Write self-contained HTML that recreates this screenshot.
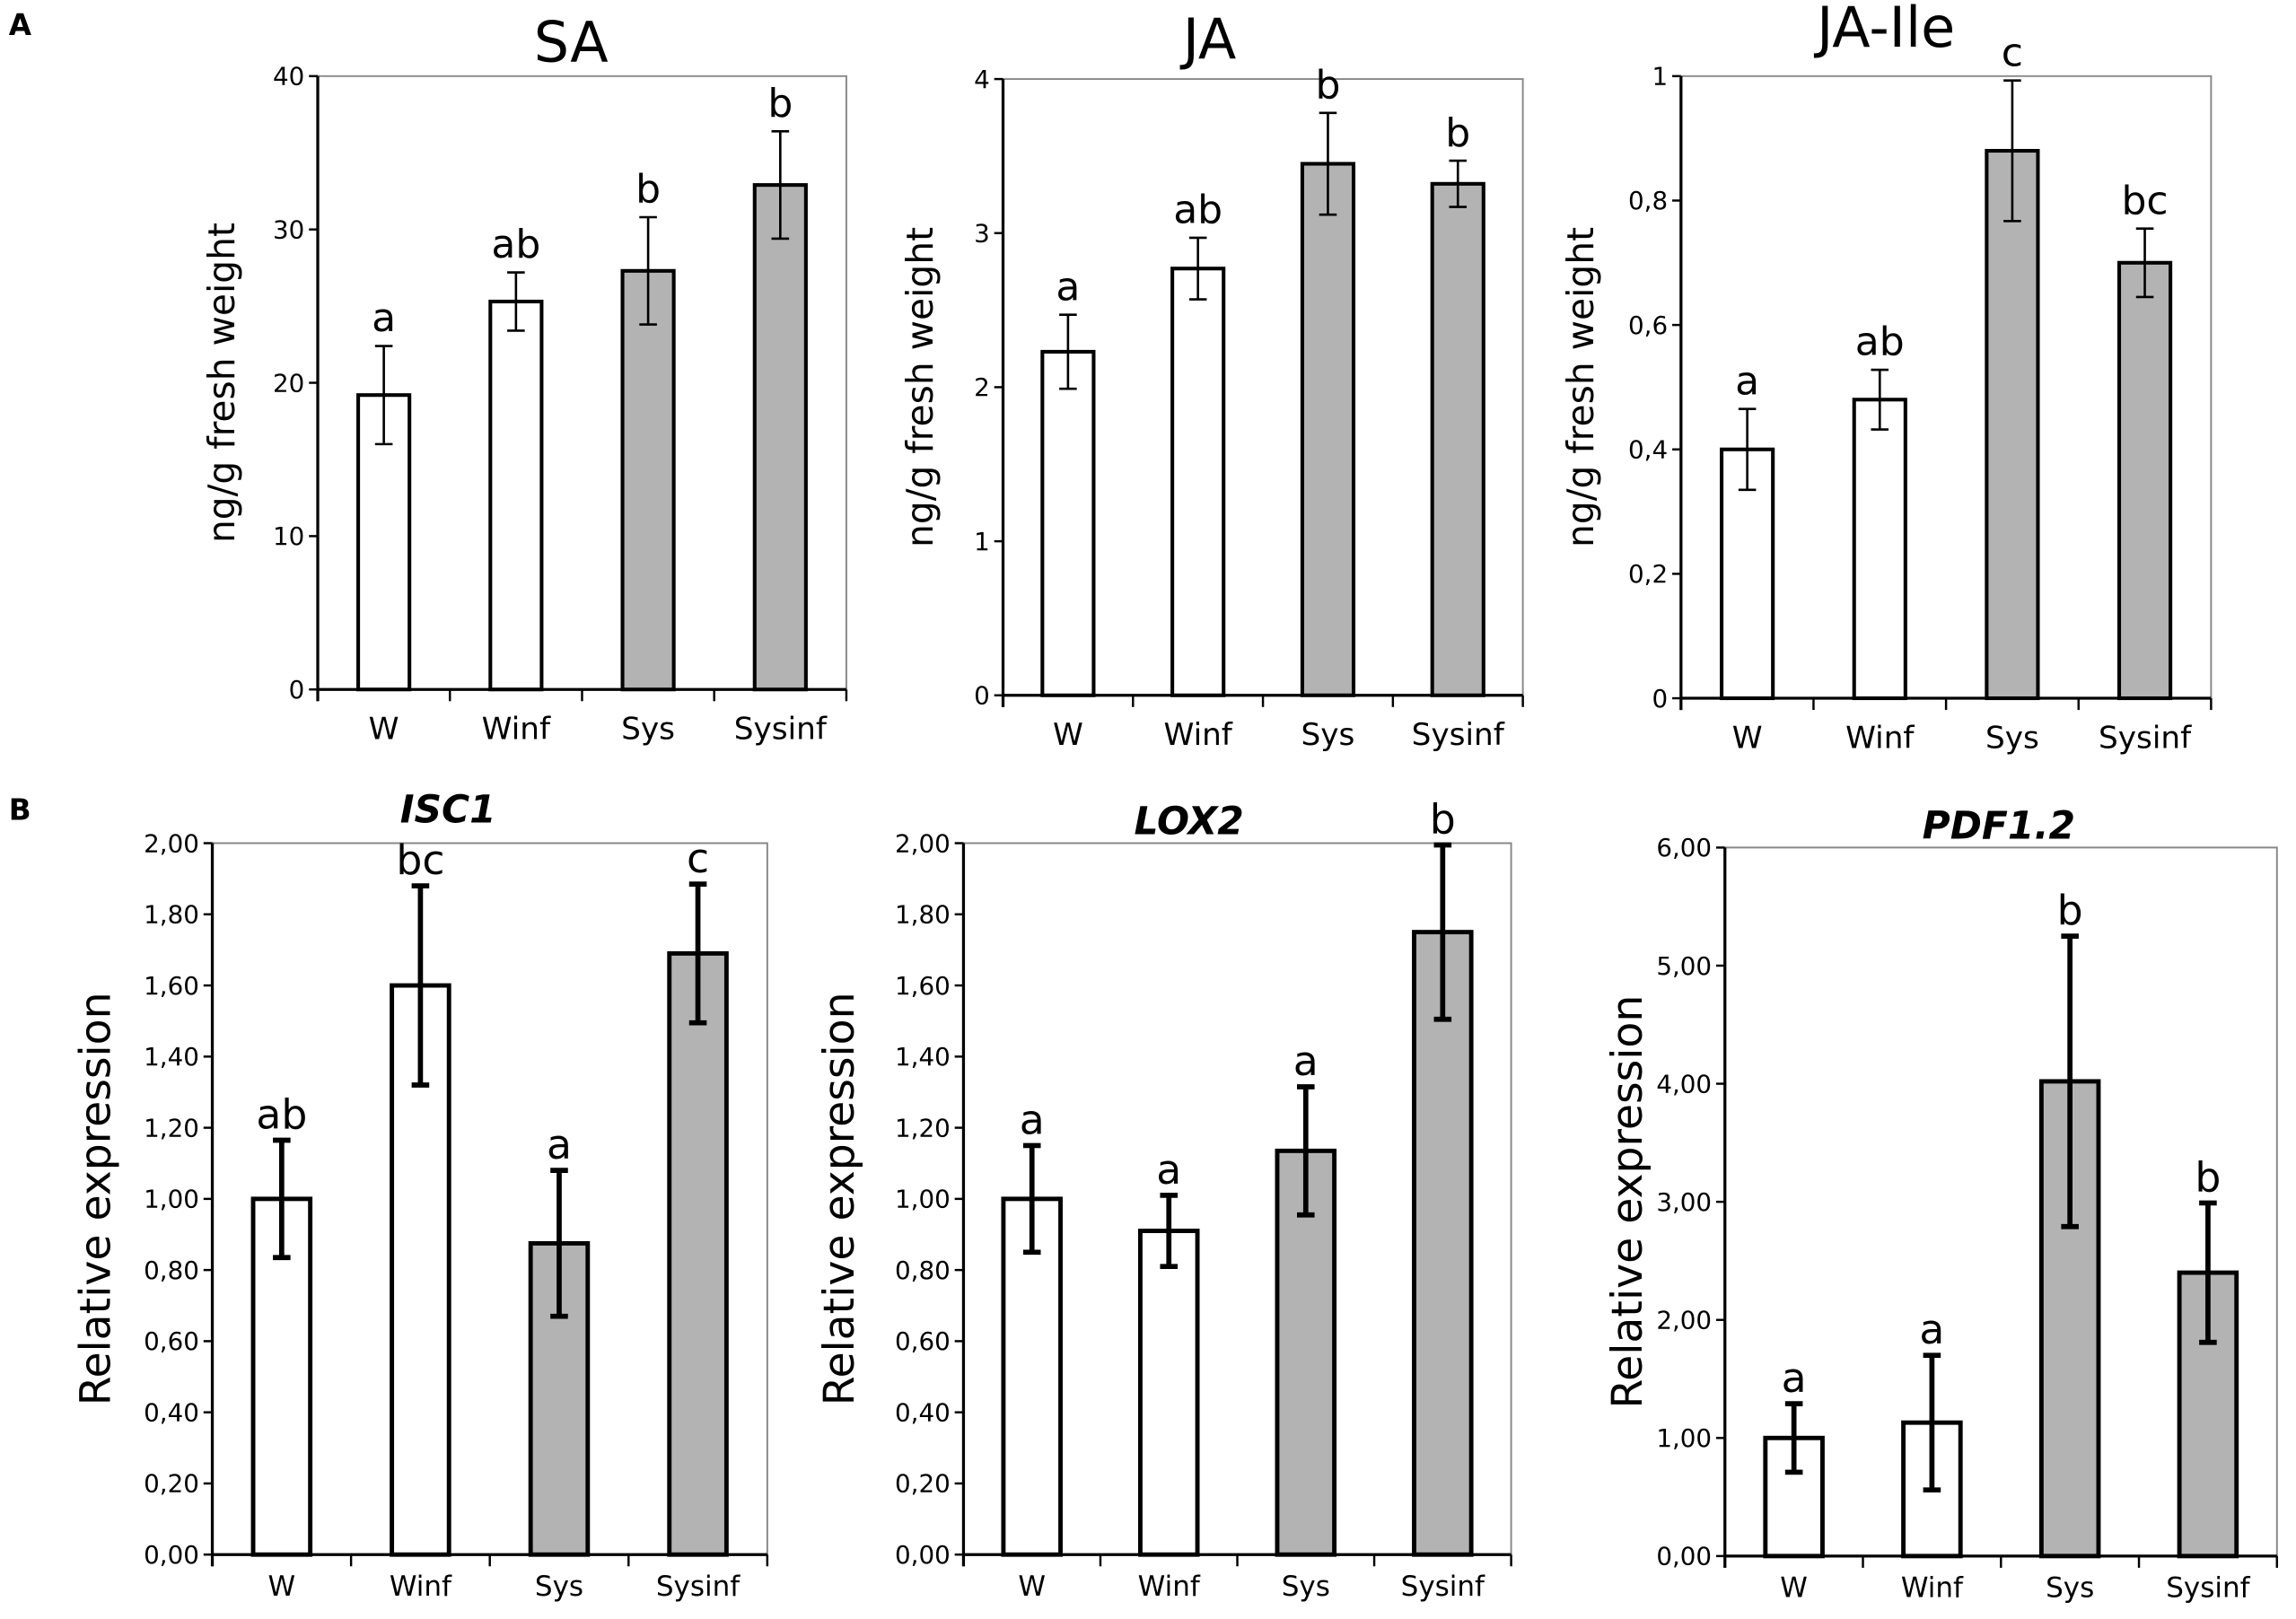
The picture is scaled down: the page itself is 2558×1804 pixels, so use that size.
<!DOCTYPE html>
<html><head><meta charset="utf-8">
<style>
html,body{margin:0;padding:0;background:#fff;}
svg{display:block;}
text{font-family:"DejaVu Sans","Liberation Sans",sans-serif;fill:#000;}
</style></head>
<body>
<svg id="fig" width="2558" height="1804" viewBox="0 0 1568 1106" preserveAspectRatio="none" xmlns="http://www.w3.org/2000/svg">
<text x="6" y="24" font-size="20" font-weight="bold">A</text>
<text x="6" y="560" font-size="20" font-weight="bold">B</text>
</svg>
<script>
const categories = ["W","Winf","Sys","Sysinf"];
const saValues = [19.2,25.3,27.3,32.9];
const saErr = [3.2,1.9,3.5,3.5];
const saLetters = ["a","ab","b","b"];
const saTicks = ["0","10","20","30","40"];
const jaValues = [2.23,2.77,3.45,3.32];
const jaErr = [0.24,0.2,0.33,0.15];
const jaLetters = ["a","ab","b","b"];
const jaTicks = ["0","1","2","3","4"];
const jaIleValues = [0.40,0.48,0.88,0.70];
const jaIleErr = [0.065,0.048,0.113,0.055];
const jaIleLetters = ["a","ab","c","bc"];
const jaIleTicks = ["0","0,2","0,4","0,6","0,8","1"];
const isc1Values = [1.00,1.60,0.875,1.69];
const isc1Err = [0.165,0.28,0.205,0.195];
const isc1Letters = ["ab","bc","a","c"];
const lox2Values = [1.00,0.91,1.135,1.75];
const lox2Err = [0.15,0.10,0.18,0.245];
const lox2Letters = ["a","a","a","b"];
const pdfValues = [1.00,1.13,4.02,2.40];
const pdfErr = [0.29,0.57,1.23,0.59];
const pdfLetters = ["a","a","b","b"];
const exprTicks2 = ["0,00","0,20","0,40","0,60","0,80","1,00","1,20","1,40","1,60","1,80","2,00"];
const exprTicks6 = ["0,00","1,00","2,00","3,00","4,00","5,00","6,00"];
const fills = ["#fff","#fff","#b3b3b3","#b3b3b3"];

const NS="http://www.w3.org/2000/svg";
const svg=document.getElementById('fig');
function mk(tag,attrs,parent){const e=document.createElementNS(NS,tag);for(const k in attrs)e.setAttribute(k,attrs[k]);(parent||svg).appendChild(e);return e;}

function chart(o){
  const g=mk('g',{});
  
  
  const {l,r,t,b,max}=o;
  const y=v=>b-(v/max)*(b-t);
  const slot=(r-l)/categories.length;
  const xc=i=>l+slot*(i+0.5);
  const fr=mk('path',{d:`M${l},${t}H${r}V${b}`,fill:'none',stroke:'#888','stroke-width':1.2},g);
  
  
  const ti=mk('text',{x:o.titleX,y:o.titleY,'font-size':o.titleSize,'text-anchor':'middle','font-weight':o.bold?'bold':'normal','font-style':o.bold?'italic':'normal'},g);
  ti.textContent=o.title;
  
  
  o.ticks.forEach((tk,i)=>{
    const v=max*i/(o.ticks.length-1);
    mk('line',{x1:l-6,x2:l,y1:y(v),y2:y(v),stroke:'#000','stroke-width':1.5},g);
    const tx=mk('text',{x:l-9,y:y(v)+6,'font-size':o.tickSize,'text-anchor':'end'},g);
    tx.textContent=tk;
    
    
  });
  const yl=mk('text',{x:0,y:0,'font-size':o.ylSize,'text-anchor':'middle',transform:`translate(${o.ylX},${(t+b)/2}) rotate(-90)`},g);
  yl.textContent=o.ylabel;
  
  
  const bw=o.bw, sw=o.thick?3:2.5, ew=o.thick?3.5:1.6;
  o.values.forEach((v,i)=>{
    const x=xc(i);
    const rc=mk('rect',{x:x-bw/2,y:y(v),width:bw,height:b-y(v),fill:fills[i],stroke:'#000','stroke-width':sw},g);
    
    
    const e=o.err[i];
    const eb=mk('path',{d:`M${x},${y(v+e)}V${y(v-e)}M${x-6},${y(v+e)}H${x+6}M${x-6},${y(v-e)}H${x+6}`,stroke:'#000','stroke-width':ew,fill:'none'},g);
    
    
    const lt=mk('text',{x:x,y:y(v+e)-o.letterGap,'font-size':o.letterSize,'text-anchor':'middle'},g);
    lt.textContent=o.letters[i];
    
    
    const cl=mk('text',{x:x,y:b+o.catDy,'font-size':o.catSize,'text-anchor':'middle'},g);
    cl.textContent=categories[i];
    
    
  });
  for(let i=0;i<=categories.length;i++) mk('line',{x1:l+slot*i,x2:l+slot*i,y1:b,y2:b+8,stroke:'#000','stroke-width':1.5},g);
  mk('line',{x1:l,x2:l,y1:t,y2:b+8,stroke:'#000','stroke-width':2},g);
  mk('line',{x1:l,x2:r,y1:b,y2:b,stroke:'#000','stroke-width':2},g);
}
const A={titleSize:38,tickSize:17,ylSize:25,letterSize:27,letterGap:10,catSize:21,catDy:34,bw:35,thick:false,ylabel:'ng/g fresh weight'};
const B={titleSize:26,bold:true,tickSize:17,ylSize:29,letterSize:28,letterGap:8,catSize:19,catDy:28,bw:39,thick:true,ylabel:'Relative expression'};
chart(Object.assign({},A,{name:'sa',title:'SA',titleX:390,titleY:42,l:217,r:578,t:52,b:471,max:40,values:saValues,err:saErr,letters:saLetters,ticks:saTicks,ylX:160}));
chart(Object.assign({},A,{name:'ja',title:'JA',titleX:826,titleY:40,l:685,r:1040,t:54,b:475,max:4,values:jaValues,err:jaErr,letters:jaLetters,ticks:jaTicks,ylX:637}));
chart(Object.assign({},A,{name:'ja-ile',title:'JA-Ile',titleX:1288,titleY:32,l:1148,r:1510,t:52,b:477,max:1,values:jaIleValues,err:jaIleErr,letters:jaIleLetters,ticks:jaIleTicks,ylX:1088}));
chart(Object.assign({},B,{name:'isc1',title:'ISC1',titleX:306,titleY:562,l:145,r:524,t:576,b:1062,max:2,values:isc1Values,err:isc1Err,letters:isc1Letters,ticks:exprTicks2,ylX:75}));
chart(Object.assign({},B,{name:'lox2',title:'LOX2',titleX:812,titleY:570,l:658,r:1032,t:576,b:1062,max:2,values:lox2Values,err:lox2Err,letters:lox2Letters,ticks:exprTicks2,ylX:583}));
chart(Object.assign({},B,{name:'pdf1-2',title:'PDF1.2',titleX:1365,titleY:573,l:1178,r:1555,t:579,b:1063,max:6,values:pdfValues,err:pdfErr,letters:pdfLetters,ticks:exprTicks6,ylX:1121}));
</script>
</body></html>
